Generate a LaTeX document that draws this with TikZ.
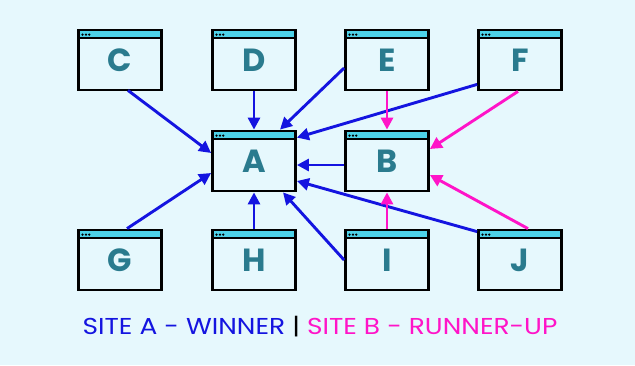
\documentclass[tikz,border=0pt]{standalone}
\usepackage{fontspec}
\setmainfont{Poppins}
\usetikzlibrary{arrows.meta}
\definecolor{bg}{HTML}{E6F8FD}
\definecolor{hdr}{HTML}{4DD2E8}
\definecolor{letter}{HTML}{2A7B8E}
\definecolor{winblue}{HTML}{1414E0}
\definecolor{runmag}{HTML}{FF14C8}
\tikzset{
  win/.style={draw=black, line width=2.8pt, fill=bg, minimum width=83pt, minimum height=60pt,
    inner sep=0pt, font=\fontsize{32}{32}\selectfont\bfseries, text=letter,
    path picture={
      \fill[hdr] (path picture bounding box.north west) rectangle ([yshift=-8.3pt]path picture bounding box.north east);
      \draw[black, line width=2.2pt] ([yshift=-8.3pt]path picture bounding box.north west) -- ([yshift=-8.3pt]path picture bounding box.north east);
      \foreach \i in {0,1,2} \fill[black] ([xshift={4pt+\i*3.4pt}, yshift=-4.6pt]path picture bounding box.north west) circle (1.25pt);
    }},
  conn/.style={line width=2.9pt, -{Triangle[length=12pt,width=12pt]}},
  blu/.style={conn, draw=winblue, fill=winblue},
  mag/.style={conn, draw=runmag, fill=runmag}
}
\newcommand{\winletter}[1]{\raisebox{-4pt}{#1}}
\begin{document}
\begin{tikzpicture}[x=1pt,y=-1pt]
\fill[bg] (0,0) rectangle (635,365);
\useasboundingbox (0,0) rectangle (635,365);
\node[win] (C) at (120,60) {\winletter{C}};
\node[win] (D) at (254,60) {\winletter{D}};
\node[win] (E) at (387,60) {\winletter{E}};
\node[win] (F) at (520,60) {\winletter{F}};
\node[win] (A) at (254,161) {\winletter{A}};
\node[win] (B) at (387,161) {\winletter{B}};
\node[win] (G) at (120,260) {\winletter{G}};
\node[win] (H) at (254,260) {\winletter{H}};
\node[win] (I) at (387,260) {\winletter{I}};
\node[win] (J) at (520,260) {\winletter{J}};
% blue connectors to A
\draw[blu] ([xshift=8pt,yshift=1pt]C.south) -- ([yshift=8pt]A.west);
\draw[blu] (D.south) -- (A.north);
\draw[blu] ([yshift=-8pt]E.west) -- ([xshift=26pt]A.north);
\draw[blu] ([yshift=7pt]F.south west) -- ([yshift=-8pt]A.north east);
\draw[blu] ([xshift=7pt]G.north) -- ([yshift=-12pt]A.west);
\draw[blu] (H.north) -- (A.south);
\draw[blu] (I.west) -- ([xshift=29pt]A.south);
\draw[blu] ([yshift=-3pt]J.north west) -- ([yshift=-20pt]A.east);
\draw[blu] ([yshift=-4pt]B.west) -- ([yshift=-4pt]A.east);
% magenta connectors to B
\draw[mag] (E.south) -- (B.north);
\draw[mag] ([xshift=-2pt]F.south) -- ([yshift=12pt]B.east);
\draw[mag] (I.north) -- (B.south);
\draw[mag] ([xshift=8pt]J.north) -- ([yshift=-14pt]B.east);
% legend
\node[font=\fontsize{23}{23}\selectfont, inner sep=0pt, xscale=1.15] (legend) at (320,327)
  {\textcolor{winblue}{SITE A - WINNER} \textcolor{black}{|} \textcolor{runmag}{SITE B - RUNNER-UP}};
\end{tikzpicture}
\end{document}
